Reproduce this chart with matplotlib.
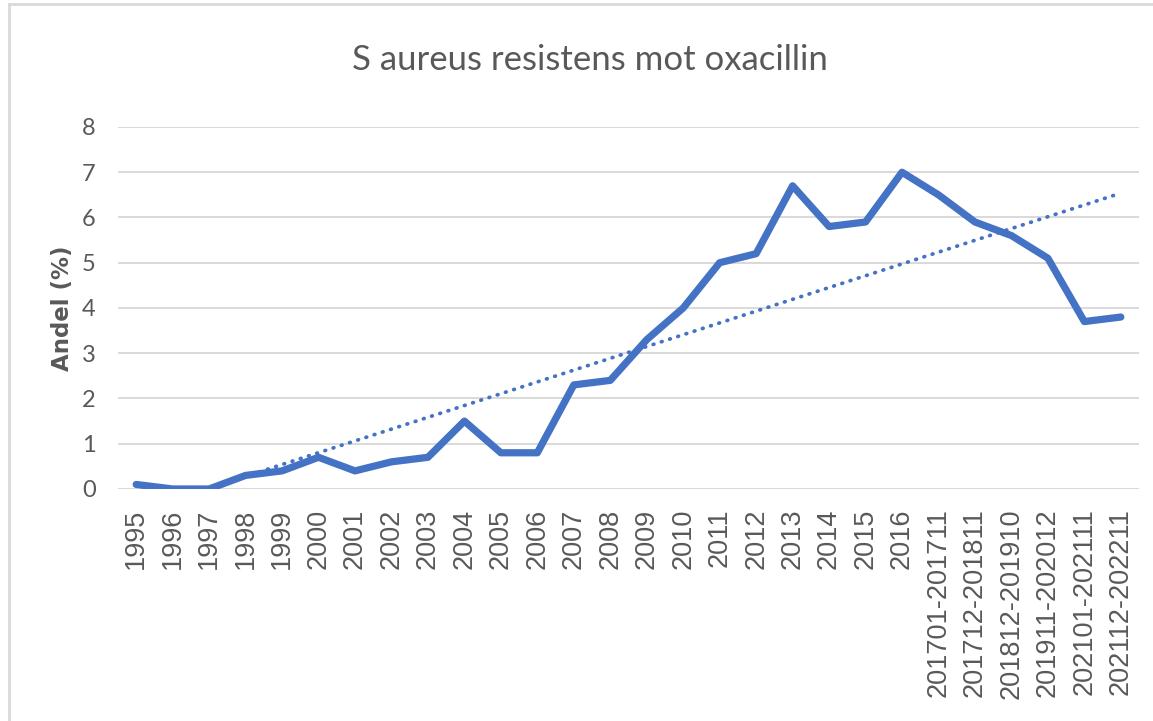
import matplotlib
matplotlib.use("Agg")
import matplotlib.pyplot as plt
from matplotlib.lines import Line2D
import numpy as np

# categories and values (percent resistant)
periods = ["1995", "1996", "1997", "1998", "1999", "2000", "2001", "2002",
           "2003", "2004", "2005", "2006", "2007", "2008", "2009", "2010",
           "2011", "2012", "2013", "2014", "2015", "2016",
           "201701-201711", "201712-201811", "201812-201910",
           "201911-202012", "202101-202111", "202112-202211"]
andel = [0.1, 0.0, 0.0, 0.3, 0.4, 0.7, 0.4, 0.6, 0.7, 1.5, 0.8, 0.8,
         2.3, 2.4, 3.3, 4.0, 5.0, 5.2, 6.7, 5.8, 5.9, 7.0,
         6.5, 5.9, 5.6, 5.1, 3.7, 3.8]
yticks = [0, 1, 2, 3, 4, 5, 6, 7, 8]

blue = "#4472C4"
grey = "#595959"
gridc = "#D9D9D9"

fig = plt.figure(figsize=(11.53, 7.21), dpi=100)
ax = fig.add_axes([0.1023, 0.3218, 0.8856, 0.5021])

x = np.arange(len(periods))

# linear trendline, like Excel's
k, m = np.polyfit(x + 1, andel, 1)
trend = k * (x + 1) + m
ax.plot(x, trend, color=blue, linewidth=2.7, linestyle=(0, (0.2, 2.1)),
        dash_capstyle="round", zorder=3)

ax.plot(x, andel, color=blue, linewidth=5.2, solid_joinstyle="round",
        solid_capstyle="round", zorder=4)

ax.set_xlim(-0.5, len(periods) - 0.5)
ax.set_ylim(0, 8)
ax.set_yticks(yticks)
ax.set_xticks(x)
ax.set_xticklabels(periods, rotation=90, va="top", ha="center",
                   fontsize=19.5, family="Liberation Sans", color=grey)
for lab in ax.get_yticklabels():
    lab.set_family("Lato")
    lab.set_fontsize(17)
    lab.set_color(grey)
ax.tick_params(axis="x", length=0, pad=14)
ax.tick_params(axis="y", length=0, pad=16)

ax.grid(axis="y", color=gridc, linewidth=1.4)
ax.set_axisbelow(True)
for s in ax.spines.values():
    s.set_visible(False)

fig.text(0.0546, 0.573, "Andel (%)", rotation=90, ha="center", va="center",
         fontsize=16.5, fontweight="bold", color=grey, family="DejaVu Sans")

fig.text(0.5117, 0.917, "S aureus resistens mot oxacillin", ha="center",
         va="center", fontsize=25, family="Lato", color=grey)

# outer chart border (only top and left visible in the crop)
fig.add_artist(Line2D([0.0078, 0.0078], [0, 0.9945], color=gridc,
                      linewidth=2, transform=fig.transFigure))
fig.add_artist(Line2D([0.0078, 1.0], [0.9945, 0.9945], color=gridc,
                      linewidth=2, transform=fig.transFigure))

fig.savefig("out.png", dpi=100)
